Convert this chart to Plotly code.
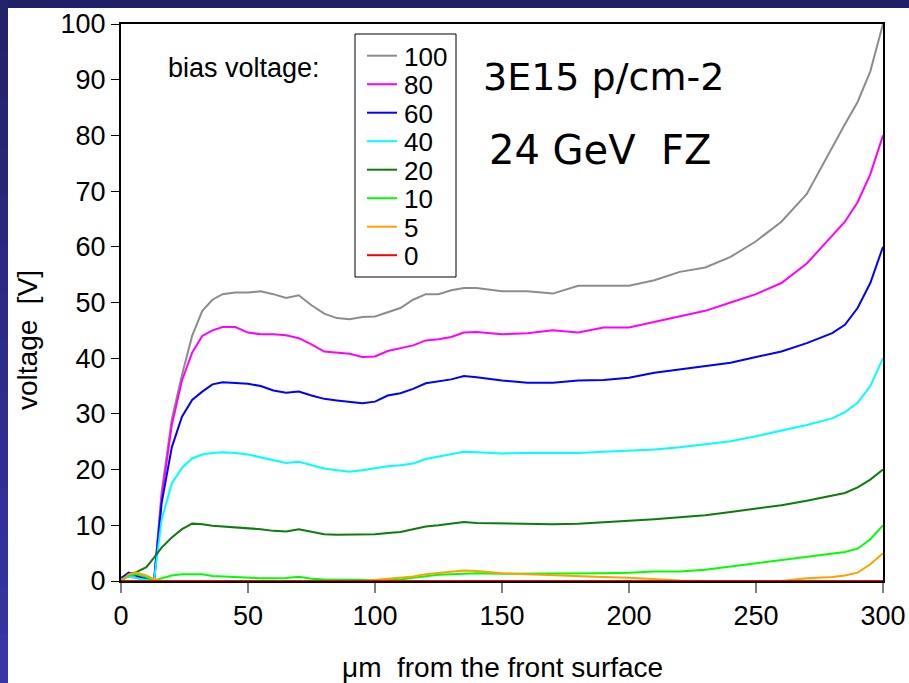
import plotly.graph_objects as go

# ---------------- data ----------------
depth_um = [0, 3, 6, 10, 13, 16, 20, 24, 28, 32, 36, 40, 45, 50, 55, 60, 65, 70, 75, 80,
            85, 90, 95, 100, 105, 110, 115, 120, 125, 130, 135, 140, 150, 160, 170, 180,
            190, 200, 210, 220, 230, 240, 250, 260, 270, 280, 285, 290, 295, 300]

v100 = [0.5, 1.2, 1.0, 0.5, 0.0, 16, 29, 37, 44, 48.5, 50.5, 51.5, 51.8, 51.8, 52.0, 51.5,
        50.8, 51.3, 49.5, 48.0, 47.2, 47.0, 47.4, 47.5, 48.2, 49.0, 50.5, 51.5, 51.5, 52.2,
        52.6, 52.6, 52.0, 52.0, 51.6, 53.0, 53.0, 53.0, 54.0, 55.5, 56.3, 58.2, 61.0, 64.5,
        69.5, 78.0, 82.0, 86.0, 91.5, 100.0]
v80 = [0.3, 0.8, 0.6, 0.3, 0.0, 15, 28, 36, 41, 44, 45, 45.6, 45.6, 44.6, 44.3, 44.3, 44.1,
       43.6, 42.5, 41.2, 41.0, 40.8, 40.2, 40.3, 41.3, 41.8, 42.3, 43.2, 43.4, 43.8, 44.6,
       44.7, 44.3, 44.5, 45.0, 44.6, 45.5, 45.5, 46.5, 47.5, 48.5, 50.0, 51.5, 53.5, 57.0,
       62.0, 64.5, 68.0, 73.0, 80.0]
v60 = [0.5, 1.5, 1.0, 0.5, 0.0, 14, 24, 29.5, 32.5, 34, 35.3, 35.7, 35.6, 35.4, 35.0, 34.2,
       33.8, 34.0, 33.3, 32.7, 32.4, 32.2, 31.9, 32.2, 33.3, 33.7, 34.5, 35.5, 35.8, 36.2,
       36.8, 36.6, 36.0, 35.6, 35.6, 36.0, 36.1, 36.5, 37.4, 38.0, 38.5, 39.2, 40.2, 41.2,
       42.7, 44.5, 46.0, 49.0, 53.5, 60.0]
v40 = [0.3, 0.8, 0.5, 0.2, 0.0, 11, 17.5, 20.3, 22, 22.7, 23, 23.1, 23.0, 22.7, 22.2, 21.6,
       21.2, 21.4, 20.8, 20.2, 19.9, 19.6, 19.9, 20.3, 20.6, 20.8, 21.1, 21.9, 22.3, 22.8,
       23.2, 23.1, 22.9, 23.0, 23.0, 23.0, 23.2, 23.4, 23.6, 24.0, 24.5, 25.1, 26.0, 27.0,
       28.0, 29.2, 30.3, 32.0, 35.0, 40.0]
v20 = [0.0, 1.2, 1.6, 2.5, 4.2, 6.0, 7.8, 9.3, 10.3, 10.2, 9.9, 9.8, 9.6, 9.5, 9.3, 9.0,
       8.9, 9.3, 8.8, 8.4, 8.3, 8.3, 8.3, 8.4, 8.6, 8.8, 9.3, 9.8, 10.0, 10.3, 10.6, 10.4,
       10.3, 10.2, 10.2, 10.3, 10.5, 10.8, 11.1, 11.4, 11.8, 12.4, 13.0, 13.6, 14.4, 15.3,
       15.8, 16.8, 18.2, 20.0]
v10 = [0.0, 1.0, 1.2, 0.7, 0.1, 0.5, 1.0, 1.2, 1.25, 1.2, 0.9, 0.8, 0.65, 0.55, 0.5, 0.5,
       0.55, 0.75, 0.4, 0.25, 0.2, 0.2, 0.2, 0.2, 0.2, 0.25, 0.6, 0.9, 1.1, 1.2, 1.3, 1.4,
       1.3, 1.3, 1.4, 1.4, 1.4, 1.5, 1.7, 1.7, 2.0, 2.6, 3.2, 3.8, 4.4, 4.9, 5.2, 5.8, 7.5,
       10.0]
v5 = [0.0, 1.2, 1.5, 1.0, 0.3, 0.0, 0.0, 0.0, 0.0, 0.0, 0.0, 0.0, 0.0, 0.0, 0.0, 0.0,
      0.0, 0.0, 0.0, 0.0, 0.0, 0.0, 0.0, 0.2, 0.4, 0.5, 0.8, 1.2, 1.4, 1.7, 1.9, 1.8,
      1.4, 1.2, 1.0, 0.8, 0.7, 0.6, 0.3, 0.1, 0.0, 0.0, 0.0, 0.0, 0.5, 0.7, 1.0, 1.5,
      3.0, 5.0]
v0 = [0.0] * len(depth_um)

bias_labels = ["100", "80", "60", "40", "20", "10", "5", "0"]
series = [v100, v80, v60, v40, v20, v10, v5, v0]
colors = ["#8c8c8c", "#ff00ff", "#0000ff", "#00ffff", "#0f7a0f", "#00ff00", "#ffa000", "#ff0000"]

x_ticks = [0, 50, 100, 150, 200, 250, 300]
y_ticks = [0, 10, 20, 30, 40, 50, 60, 70, 80, 90, 100]

# ---------------- figure ----------------
W, H = 909, 683
L, R, T, B = 121, 26, 24, 102
PW, PH = W - L - R, H - T - B

def px_x(p):
    return (p - L) / PW

def px_y(p):
    return (H - B - p) / PH

fig = go.Figure()
for lab, vals, col in zip(bias_labels, series, colors):
    fig.add_trace(go.Scatter(x=depth_um, y=vals, mode="lines", name=lab,
                             line=dict(color=col, width=2)))

ARIAL = "Arial, Liberation Sans, sans-serif"
AX_FONT = dict(family=ARIAL, size=27, color="black")

fig.update_layout(
    width=W, height=H,
    margin=dict(l=L, r=R, t=T, b=B, autoexpand=False),
    paper_bgcolor="white", plot_bgcolor="white",
    showlegend=False,
    xaxis=dict(range=[0, 300], tickvals=x_ticks, ticks="outside", ticklen=10, tickwidth=2,
               tickcolor="#808080", showgrid=False, zeroline=False, showline=True,
               linecolor="black", linewidth=2, mirror=True, tickfont=AX_FONT),
    yaxis=dict(range=[0, 100], tickvals=y_ticks, ticks="outside", ticklen=8, tickwidth=1,
               tickcolor="black", showgrid=False, zeroline=False, showline=True,
               linecolor="black", linewidth=2, mirror=True, tickfont=AX_FONT),
)

# Slide border (dark navy strips at top and left)
shapes = [dict(type="rect", xref="paper", yref="paper", x0=px_x(0), x1=px_x(W),
               y0=px_y(8), y1=px_y(0), fillcolor="#20206a", line=dict(width=0), layer="above")]
nb = 14
for i in range(nb):
    t = i / (nb - 1)
    r = int(0x22 + t * (0x36 - 0x22))
    g = int(0x22 + t * (0x36 - 0x22))
    b = int(0x6a + t * (0xa6 - 0x6a))
    shapes.append(dict(type="rect", xref="paper", yref="paper", x0=px_x(0), x1=px_x(8),
                       y0=px_y(H * (i + 1) / nb + 1), y1=px_y(H * i / nb),
                       fillcolor=f"rgb({r},{g},{b})", line=dict(width=0), layer="above"))

# Legend box (drawn to match the original spacing)
LEG_L, LEG_R, LEG_T, LEG_B = 355, 456, 34, 277
shapes.append(dict(type="rect", xref="paper", yref="paper", x0=px_x(LEG_L), x1=px_x(LEG_R),
                   y0=px_y(LEG_B), y1=px_y(LEG_T), fillcolor="white",
                   line=dict(color="black", width=1), layer="above"))
row0, dy = 55.7, 28.5
for i, (lab, col) in enumerate(zip(bias_labels, colors)):
    yc = row0 + dy * i
    shapes.append(dict(type="line", xref="paper", yref="paper", x0=px_x(367), x1=px_x(397),
                       y0=px_y(yc), y1=px_y(yc), line=dict(color=col, width=2), layer="above"))
    fig.add_annotation(text=lab, xref="paper", yref="paper", x=px_x(402), y=px_y(yc + 1),
                       showarrow=False, xanchor="left", yanchor="middle",
                       font=dict(family=ARIAL, size=26, color="black"))
fig.update_layout(shapes=shapes)

fig.add_annotation(text="\u03bcm\u00a0 from the front surface", xref="paper", yref="paper",
                   x=px_x(502), y=px_y(667), showarrow=False,
                   font=dict(family=ARIAL, size=28, color="black"),
                   xanchor="center", yanchor="middle")
fig.add_annotation(text="voltage\u00a0 [V]", xref="paper", yref="paper",
                   x=px_x(27), y=px_y(340), showarrow=False,
                   font=dict(family=ARIAL, size=28, color="black"), textangle=-90,
                   xanchor="center", yanchor="middle")
fig.add_annotation(text="bias voltage:", xref="paper", yref="paper",
                   x=px_x(244), y=px_y(68), showarrow=False,
                   font=dict(family=ARIAL, size=27, color="black"),
                   xanchor="center", yanchor="middle")
BIG = dict(family="DejaVu Sans, sans-serif", size=38, color="black")
fig.add_annotation(text="3E15 p/cm-2", xref="paper", yref="paper",
                   x=px_x(603), y=px_y(77), showarrow=False, font=BIG,
                   xanchor="center", yanchor="middle")
fig.add_annotation(text="24 GeV\u00a0 FZ", xref="paper", yref="paper",
                   x=px_x(600), y=px_y(150), showarrow=False,
                   font=dict(family="DejaVu Sans, sans-serif", size=40, color="black"),
                   xanchor="center", yanchor="middle")

fig.write_html("out.html")
